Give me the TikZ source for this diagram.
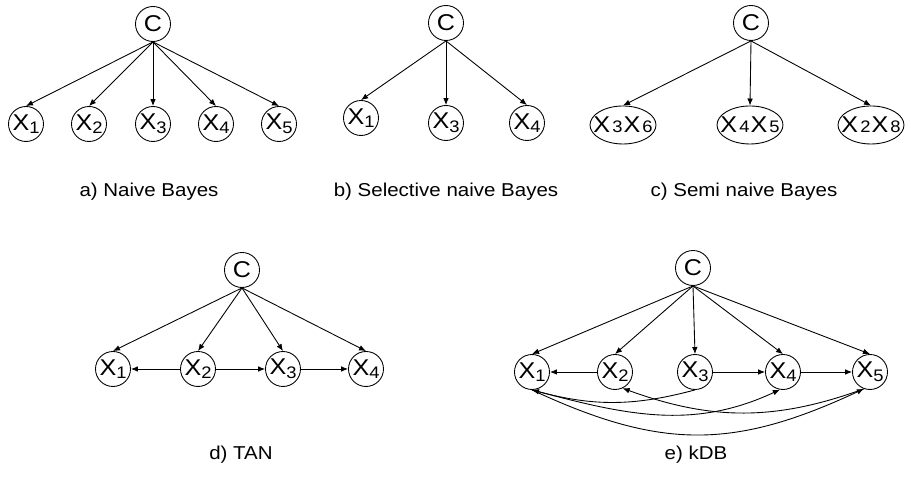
\documentclass[tikz,border=0pt]{standalone}
\usepackage{fontspec}
\setmainfont{Liberation Sans}[FakeStretch=1.1]
\usetikzlibrary{arrows.meta,shapes.geometric}
\newcommand{\xsub}[1]{\raisebox{-0.3ex}{\fontsize{9.5}{9.5}\selectfont #1}}
\newcommand{\xmid}[1]{\hspace{1.2pt}{\fontsize{9.5}{9.5}\selectfont #1}\hspace{0.6pt}}
\begin{document}
\begin{tikzpicture}[
    var/.style={draw, circle, minimum size=0.7cm, inner sep=0pt, line width=0.5pt, font=\fontsize{13}{14}\selectfont},
    grp/.style={draw, ellipse, minimum width=1.32cm, minimum height=0.76cm, inner xsep=-4pt, inner ysep=0pt, line width=0.5pt, font=\fontsize{13}{14}\selectfont},
    arr/.style={-{Latex[length=4pt,width=3.2pt]}, line width=0.5pt},
    capt/.style={font=\fontsize{10.6}{12}\selectfont}
]
            \useasboundingbox (0,0) rectangle (18.12,9.62);
            \node[var] (ac) at (3.06,9.14) {C};
            \node[var] (a1) at (0.52,7.14) {X\xsub{1}};
            \node[var] (a2) at (1.78,7.14) {X\xsub{2}};
            \node[var] (a3) at (3.06,7.14) {X\xsub{3}};
            \node[var] (a4) at (4.32,7.14) {X\xsub{4}};
            \node[var] (a5) at (5.58,7.14) {X\xsub{5}};
            \draw[arr] (ac.south) -- (a1.north);
            \draw[arr] (ac.south) -- (a2.north);
            \draw[arr] (ac.south) -- (a3.north);
            \draw[arr] (ac.south) -- (a4.north);
            \draw[arr] (ac.south) -- (a5.north);
            \node[capt] (acap) at (2.98,5.78) {a) Naive Bayes};
            \node[var] (bc) at (8.92,9.16) {C};
            \node[var] (b1) at (7.22,7.26) {X\xsub{1}};
            \node[var] (b3) at (8.92,7.16) {X\xsub{3}};
            \node[var] (b4) at (10.54,7.16) {X\xsub{4}};
            \draw[arr] (bc.south) -- (b1.north);
            \draw[arr] (bc.south) -- (b3.north);
            \draw[arr] (bc.south) -- (b4.north);
            \node[capt] (bcap) at (8.92,5.78) {b) Selective naive Bayes};
            \node[var] (cc) at (15.02,9.16) {C};
            \node[grp] (c36) at (12.46,7.12) {X\xmid{3}X\xmid{6}};
            \node[grp] (c45) at (15.0,7.12) {X\xmid{4}X\xmid{5}};
            \node[grp] (c28) at (17.42,7.12) {X\xmid{2}X\xmid{8}};
            \draw[arr] (cc.south) -- (c36.north);
            \draw[arr] (cc.south) -- (c45.north);
            \draw[arr] (cc.south) -- (c28.north);
            \node[capt] (ccap) at (14.88,5.78) {c) Semi naive Bayes};
            \node[var] (dc) at (4.84,4.22) {C};
            \node[var] (d1) at (2.26,2.24) {X\xsub{1}};
            \node[var] (d2) at (3.96,2.24) {X\xsub{2}};
            \node[var] (d3) at (5.66,2.24) {X\xsub{3}};
            \node[var] (d4) at (7.32,2.24) {X\xsub{4}};
            \draw[arr] (dc.south) -- (d1.north);
            \draw[arr] (dc.south) -- (d2.north);
            \draw[arr] (dc.south) -- (d3.north);
            \draw[arr] (dc.south) -- (d4.north);
            \draw[arr] (d2) -- (d1);
            \draw[arr] (d2) -- (d3);
            \draw[arr] (d3) -- (d4);
            \node[capt] (dcap) at (4.82,0.52) {d) TAN};
            \node[var] (ec) at (13.86,4.26) {C};
            \node[var] (e1) at (10.64,2.18) {X\xsub{1}};
            \node[var] (e2) at (12.3,2.18) {X\xsub{2}};
            \node[var] (e3) at (13.9,2.18) {X\xsub{3}};
            \node[var] (e4) at (15.66,2.18) {X\xsub{4}};
            \node[var] (e5) at (17.4,2.18) {X\xsub{5}};
            \draw[arr] (ec.south) -- (e1.north);
            \draw[arr] (ec.south) -- (e2.north);
            \draw[arr] (ec.south) -- (e3.north);
            \draw[arr] (ec.south) -- (e4.north);
            \draw[arr] (ec.south) -- (e5.north);
            \draw[arr] (e2) -- (e1);
            \draw[arr] (e3) -- (e4);
            \draw[arr] (e4) -- (e5);
            \draw[arr] (e3.south) to[out=195,in=-15] (e1.south);
            \draw[arr] (e1.south) to[out=-15,in=-155] (e4.-100);
            \draw[arr] (e1.south) to[out=-25,in=-155,looseness=1.1] (e5.-110);
            \draw[arr] (e5.-110) to[out=-160,in=-20] (e2.-65);
            \node[capt] (ecap) at (13.92,0.52) {e) kDB};
        \end{tikzpicture}
\end{document}
